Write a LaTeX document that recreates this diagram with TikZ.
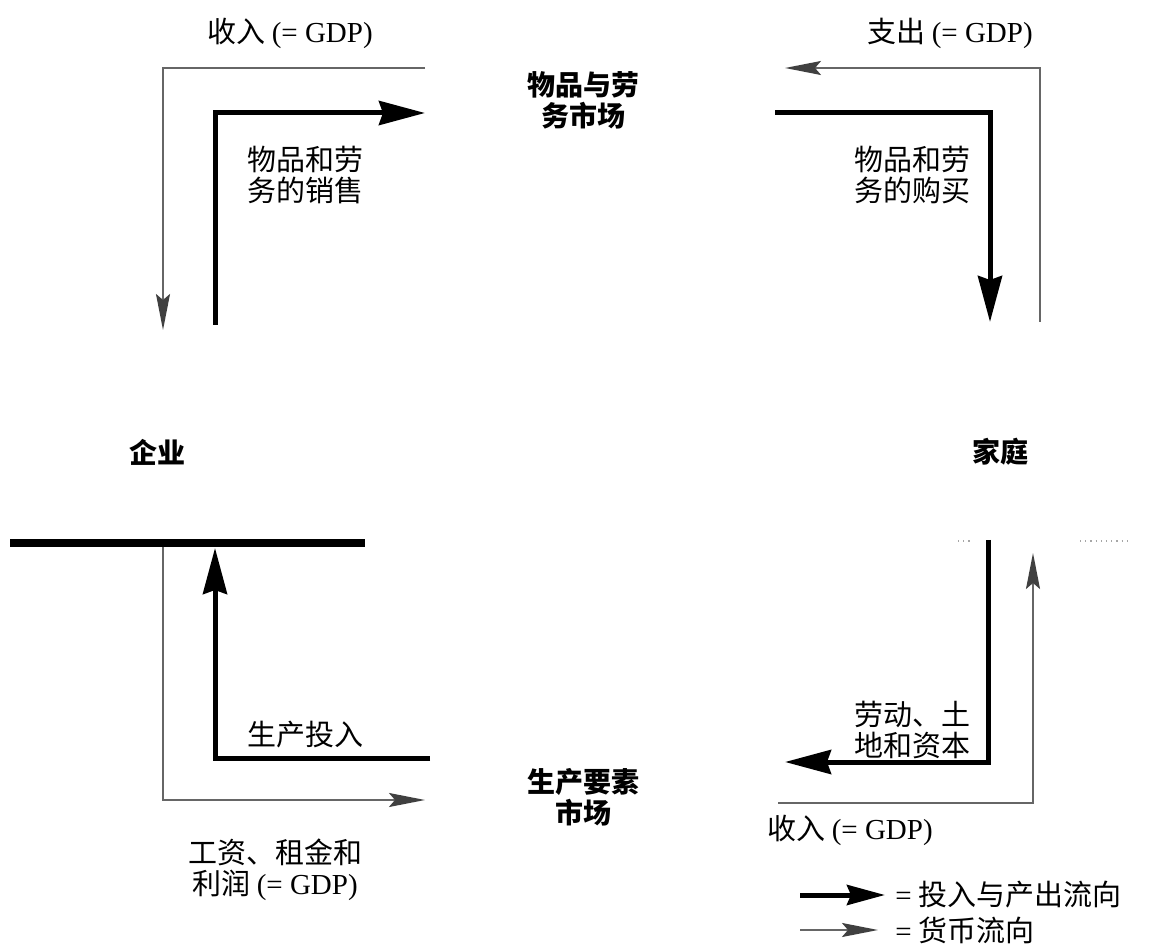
\documentclass[tikz,border=0pt]{standalone}
\usepackage{fontspec}
\setmainfont{Liberation Serif}
\newfontfamily\cjk{Noto Sans CJK SC}
\usetikzlibrary{arrows.meta}
\begin{document}
\begin{tikzpicture}[x=0.5pt,y=-0.5pt,
  flow/.style={line width=2.5pt, line join=miter, -{Stealth[length=23pt,width=12pt,inset=2pt]}},
  money/.style={line width=1pt, draw=black!60, line join=miter, -{Stealth[length=18pt,width=7pt,inset=3pt,color=black!75]}},
  lbl/.style={font=\cjk\fontsize{14.5}{15.5}\selectfont, align=center, inner sep=0pt},
  mkt/.style={font=\cjk\bfseries\fontsize{14}{15.5}\selectfont, align=center, inner sep=0pt},
  faint/.style={draw=black!35, line width=0.6pt, dotted}
]
\path[use as bounding box] (0,0) rectangle (1157,946);

% labels and nodes
\node[lbl] (incTop) at (290,33) {收入 {\rmfamily (= GDP)}};
\node[lbl] (spend) at (950,33) {支出 {\rmfamily (= GDP)}};
\node[mkt] (goods) at (583,100) {物品与劳\\务市场};
\node[lbl] (sell) at (305,175) {物品和劳\\务的销售};
\node[lbl] (buy) at (912,175) {物品和劳\\务的购买};
\node[mkt] (firm) at (157,452) {企业};
\node[mkt] (house) at (1000,452) {家庭};
\node[lbl] (input) at (305,735) {生产投入};
\node[lbl] (labor) at (912,730) {劳动、土\\地和资本};
\node[mkt] (factor) at (583,797) {生产要素\\市场};
\node[lbl] (wages) at (275,870) {工资、租金和\\利润 {\rmfamily (= GDP)}};
\node[lbl] (incBot) at (850,830) {收入 {\rmfamily (= GDP)}};

% end points
\coordinate (tlM0) at (425,68);
\coordinate (tlM1) at (163,68);
\coordinate (tlM2) at (163,330);
\coordinate (tlF0) at (215,325);
\coordinate (tlF1) at (215,113);
\coordinate (tlF2) at (425,113);

\coordinate (trM0) at (1040,322);
\coordinate (trM1) at (1040,68);
\coordinate (trM2) at (785,68);
\coordinate (trF0) at (775,113);
\coordinate (trF1) at (990,113);
\coordinate (trF2) at (990,322);

\coordinate (barL) at (10,543);
\coordinate (barR) at (365,543);

\coordinate (blM0) at (163,547);
\coordinate (blM1) at (163,800);
\coordinate (blM2) at (425,800);
\coordinate (blF0) at (430,758);
\coordinate (blF1) at (215,758);
\coordinate (blF2) at (215,548);

\coordinate (brF0) at (988,540);
\coordinate (brF1) at (988,762);
\coordinate (brF2) at (785,762);
\coordinate (brM0) at (778,803);
\coordinate (brM1) at (1033,803);
\coordinate (brM2) at (1033,553);

% flows
\draw[money] (tlM0) -- (tlM1) -- (tlM2);
\draw[flow] (tlF0) -- (tlF1) -- (tlF2);
\draw[money] (trM0) -- (trM1) -- (trM2);
\draw[flow] (trF0) -- (trF1) -- (trF2);
\draw[line width=4pt] (barL) -- (barR);
\draw[money] (blM0) -- (blM1) -- (blM2);
\draw[flow] (blF0) -- (blF1) -- (blF2);
\draw[flow] (brF0) -- (brF1) -- (brF2);
\draw[money] (brM0) -- (brM1) -- (brM2);

% faint remnants near household
\coordinate (fa0) at (958,541);
\coordinate (fa1) at (972,541);
\coordinate (fb0) at (1080,541);
\coordinate (fb1) at (1130,541);
\draw[faint] (fa0) -- (fa1);
\draw[faint] (fb0) -- (fb1);

% legend
\coordinate (lg1a) at (800,895);
\coordinate (lg1b) at (885,895);
\coordinate (lg2a) at (800,930);
\coordinate (lg2b) at (878,930);
\draw[flow, -{Stealth[length=19pt,width=10pt,inset=2pt]}] (lg1a) -- (lg1b);
\draw[money] (lg2a) -- (lg2b);
\node[lbl, anchor=west] (leg1) at (895,895) {{\rmfamily =} 投入与产出流向};
\node[lbl, anchor=west] (leg2) at (895,930) {{\rmfamily =} 货币流向};
\end{tikzpicture}
\end{document}
